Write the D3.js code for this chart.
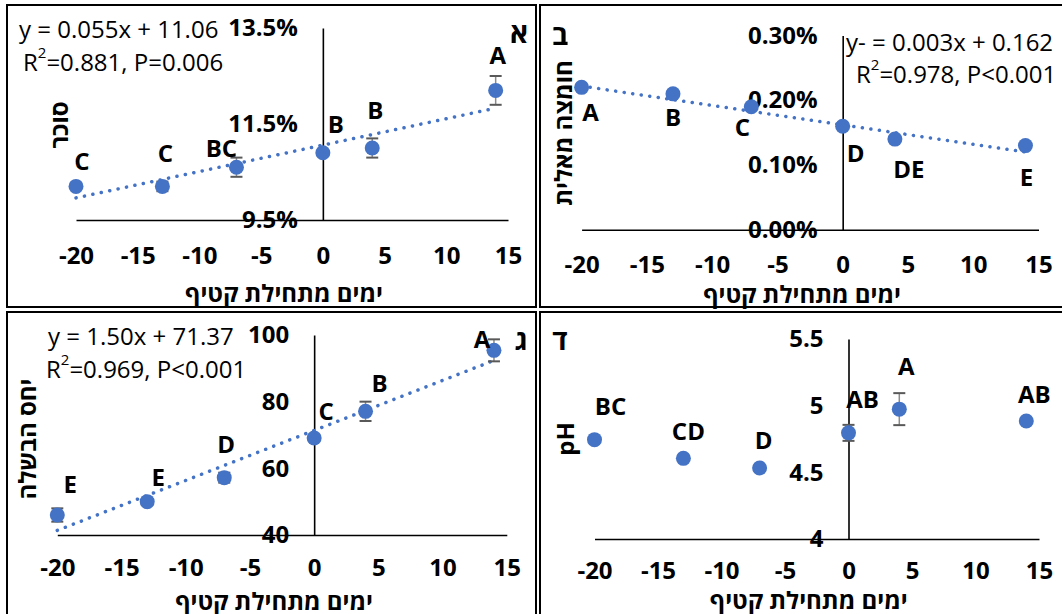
<html>
<head>
<meta charset="utf-8">
<style>
  body { margin: 0; background: #fff; }
  text { font-family: "Open Sans", "Liberation Sans", "DejaVu Sans", sans-serif; }
</style>
</head>
<body>
<script src="https://d3js.org/d3.v7.min.js"></script>
<script>
// data
const days = [-20, -13, -7, 0, 4, 14];
const xTicks = [-20, -15, -10, -5, 0, 5, 10, 15];

const sugar = [10.2, 10.2, 10.6, 10.9, 11.0, 12.2];
const sugarErr = [0.04, 0.1, 0.2, 0.04, 0.2, 0.3];
const sugarLetters = ["C", "C", "BC", "B", "B", "A"];
const sugarTicks = [9.5, 11.5, 13.5];
const sugarTrend = [0.055, 11.06];

const malic = [0.22, 0.21, 0.19, 0.16, 0.14, 0.13];
const malicErr = [0, 0, 0, 0, 0, 0];
const malicLetters = ["A", "B", "C", "D", "DE", "E"];
const malicTicks = [0, 0.1, 0.2, 0.3];
const malicTrend = [-0.003, 0.162];

const ratio = [46, 50, 57.2, 69.1, 77.1, 95.4];
const ratioErr = [2, 0.8, 1.5, 1, 2.9, 3.3];
const ratioLetters = ["E", "E", "D", "C", "B", "A"];
const ratioTicks = [40, 60, 80, 100];
const ratioTrend = [1.50, 71.37];

const ph = [4.745, 4.605, 4.533, 4.796, 4.974, 4.885];
const phErr = [0.01, 0.01, 0.01, 0.06, 0.12, 0.01];
const phLetters = ["BC", "CD", "D", "AB", "A", "AB"];
const phTicks = [4, 4.5, 5, 5.5];

const blue = "#4472C4";
const svg = d3.select("body").append("svg").attr("width", 1062).attr("height", 614);

// cell borders
[[7, 5, 529, 302], [540, 5, 530, 302], [7, 312, 529, 310], [540, 312, 530, 310]].forEach(c => {
  svg.append("rect").attr("x", c[0]).attr("y", c[1]).attr("width", c[2]).attr("height", c[3])
    .attr("fill", "none").attr("stroke", "#000").attr("stroke-width", 2);
});

const panels = [
  { vals: sugar, err: sugarErr, letters: sugarLetters, ticks: sugarTicks, trend: sugarTrend,
    fmt: d => d.toFixed(1) + "%", xr: [76, 508], yd: [9.5, 13.5], yr: [220, 28], pad: 27,
    nudge: [[6, -26], [3, -34], [-15, -20], [13, -29], [3, -39], [2, -36]],
    tag: "א", tagPos: [519, 32], title: "סוכר", titlePos: [58, 125], xTitleY: 292,
    eq: ["y = 0.055x + 11.06", "0.881, P=0.006"], eqPos: [[19, 28], [23, 61]] },
  { vals: malic, err: malicErr, letters: malicLetters, ticks: malicTicks, trend: malicTrend,
    fmt: d => d.toFixed(2) + "%", xr: [581.6, 1038.5], yd: [0, 0.3], yr: [229.7, 35.6], pad: 26,
    nudge: [[9, 24], [0, 23], [-9, 20], [13, 26], [14, 29], [1, 31]],
    tag: "ב", tagPos: [560, 34], title: "חומצה מאלית", titlePos: [562, 133], xTitleY: 293,
    eq: ["y- = 0.003x + 0.162", "0.978, P<0.001"], eqPos: [[846, 41], [856, 73]] },
  { vals: ratio, err: ratioErr, letters: ratioLetters, ticks: ratioTicks, trend: ratioTrend,
    fmt: d => String(d), xr: [57.3, 506.8], yd: [40, 100], yr: [535, 335], pad: 24,
    nudge: [[13, -32], [11, -25], [2, -34], [12, -28], [14, -29], [-12, -12]],
    tag: "ג", tagPos: [521, 339], title: "יחס הבשלה", titlePos: [26, 439], xTitleY: 600,
    eq: ["y = 1.50x + 71.37", "0.969, P<0.001"], eqPos: [[48, 335], [46, 368]] },
  { vals: ph, err: phErr, letters: phLetters, ticks: phTicks, trend: null,
    fmt: d => String(d), xr: [594.5, 1039], yd: [4, 5.5], yr: [539, 339], pad: 23,
    nudge: [[16, -34], [5, -28], [4, -28], [14, -34], [7, -44], [8, -28]],
    tag: "ד", tagPos: [560, 339], title: "pH", titlePos: [564, 439], xTitleY: 599,
    eq: null }
];

function drawPanel(p) {
  const x = d3.scaleLinear().domain([-20, 15]).range(p.xr);
  const y = d3.scaleLinear().domain(p.yd).range(p.yr);
  const g = svg.append("g");

  const xa = g.append("g").attr("transform", `translate(0,${p.yr[0]})`)
    .call(d3.axisBottom(x).tickValues(xTicks).tickSize(0).tickPadding(p.pad).tickFormat(d => String(d)));
  const ya = g.append("g").attr("transform", `translate(${x(0)},0)`)
    .call(d3.axisLeft(y).tickValues(p.ticks).tickSize(0).tickPadding(25).tickFormat(p.fmt));
  [xa, ya].forEach(a => {
    a.attr("font-family", null);
    a.select(".domain").attr("stroke", "#000").attr("stroke-width", 1.6);
    a.selectAll("text").attr("font-size", 24).attr("font-weight", "bold").attr("fill", "#000");
  });

  if (p.trend) {
    const line = d3.line().x(d => x(d)).y(d => y(p.trend[0] * d + p.trend[1]));
    g.append("path").attr("d", line([days[0], days[days.length - 1]]))
      .attr("fill", "none").attr("stroke", blue).attr("stroke-width", 3.5)
      .attr("stroke-linecap", "round").attr("stroke-dasharray", "0.1 8.5");
  }

  const pts = days.map((d, i) => ({ d, v: p.vals[i], e: p.err[i], l: p.letters[i], n: p.nudge[i] }));

  // error bars sit behind the markers, so the tiny ones stay hidden
  const eb = g.selectAll(".eb").data(pts.filter(d => d.e > 0)).join("g");
  eb.append("line").attr("x1", d => x(d.d)).attr("x2", d => x(d.d))
    .attr("y1", d => y(d.v - d.e)).attr("y2", d => y(d.v + d.e))
    .attr("stroke", "#8c8c8c").attr("stroke-width", 1.5);
  [-1, 1].forEach(s => {
    eb.append("line").attr("x1", d => x(d.d) - 6).attr("x2", d => x(d.d) + 6)
      .attr("y1", d => y(d.v + s * d.e)).attr("y2", d => y(d.v + s * d.e))
      .attr("stroke", "#595959").attr("stroke-width", 2);
  });

  g.selectAll(".dot").data(pts).join("circle")
    .attr("cx", d => x(d.d)).attr("cy", d => y(d.v)).attr("r", 7.5).attr("fill", blue);

  g.selectAll(".lbl").data(pts).join("text")
    .attr("x", d => x(d.d) + d.n[0]).attr("y", d => y(d.v) + d.n[1])
    .attr("text-anchor", "middle").attr("dominant-baseline", "central")
    .attr("font-size", 24).attr("font-weight", "bold").text(d => d.l);

  g.append("text").attr("x", p.tagPos[0]).attr("y", p.tagPos[1])
    .attr("text-anchor", "middle").attr("dominant-baseline", "central")
    .attr("font-size", 28).attr("font-weight", "bold").text(p.tag);

  g.append("text").attr("transform", `translate(${p.titlePos[0]},${p.titlePos[1]}) rotate(-90)`)
    .attr("text-anchor", "middle").attr("dominant-baseline", "central")
    .attr("font-size", 24).attr("font-weight", "bold").text(p.title);

  g.append("text").attr("x", (p.xr[0] + p.xr[1]) / 2 - 8).attr("y", p.xTitleY)
    .attr("text-anchor", "middle").attr("dominant-baseline", "central")
    .attr("font-size", 24).attr("font-weight", "bold").text("ימים מתחילת קטיף");

  if (p.eq) {
    g.append("text").attr("x", p.eqPos[0][0]).attr("y", p.eqPos[0][1])
      .attr("dominant-baseline", "central").attr("direction", "ltr")
      .attr("font-size", 24).text(p.eq[0]);
    const t = g.append("text").attr("x", p.eqPos[1][0]).attr("y", p.eqPos[1][1])
      .attr("dominant-baseline", "central").attr("direction", "ltr").attr("font-size", 24);
    t.append("tspan").text("R");
    t.append("tspan").attr("font-size", 15).attr("dy", -9).text("2");
    t.append("tspan").attr("dy", 9).text("=" + p.eq[1]);
  }
}

panels.forEach(drawPanel);
</script>
</body>
</html>
